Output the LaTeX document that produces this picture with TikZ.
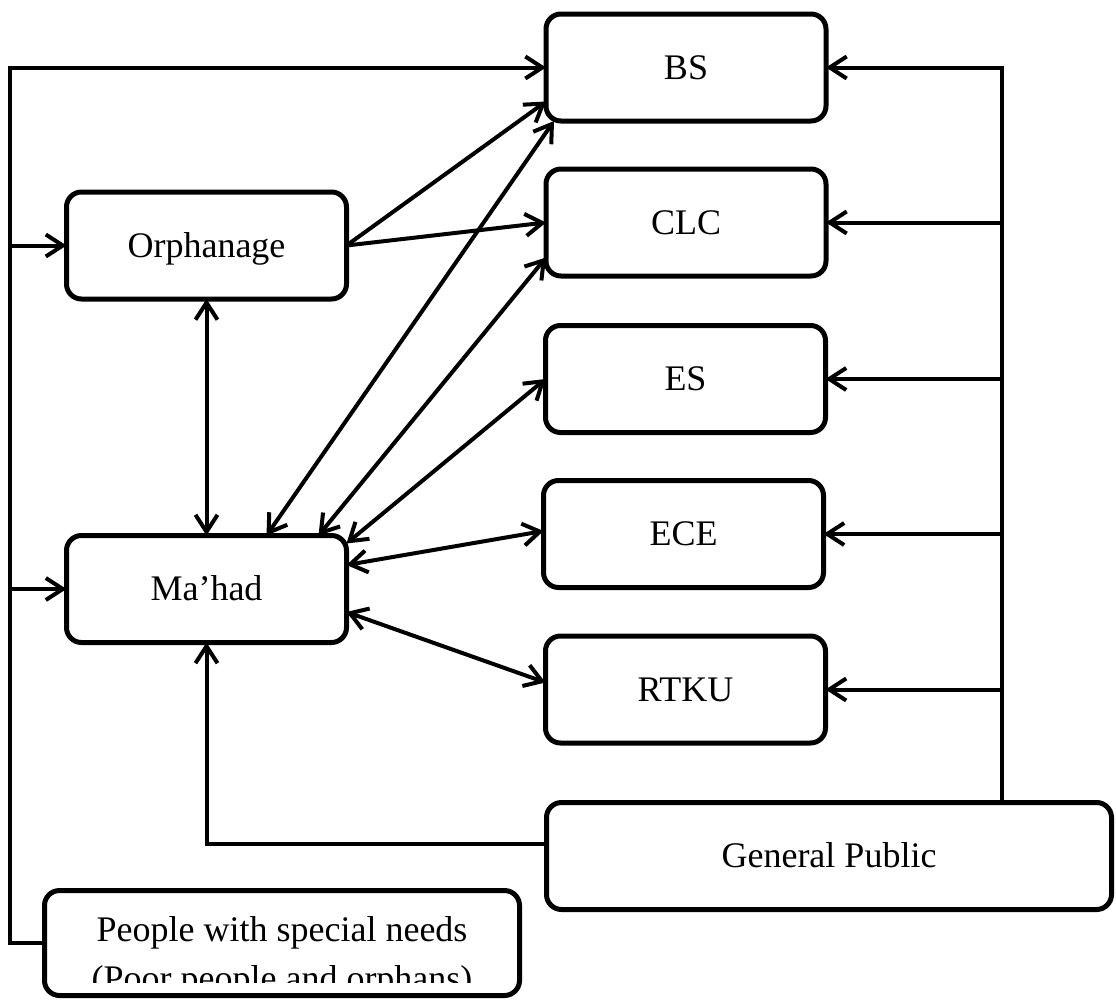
\documentclass[tikz,border=0pt]{standalone}
\usepackage{fontspec}
\setmainfont{Liberation Serif}
\usetikzlibrary{arrows.meta}
\begin{document}
\begin{tikzpicture}[x=1pt,y=-1pt,
  box/.style={draw, fill=white, line width=5pt, rounded corners=15pt, inner sep=0pt, outer sep=0pt,
    minimum width=280pt, minimum height=107pt, font=\fontsize{36}{44}\selectfont,
    text height=23.5pt, text depth=0pt},
  conn/.style={line width=4pt},
  tip/.tip={Straight Barb[length=17pt,width=22pt]},
  arr/.style={conn, -tip},
  arrr/.style={conn, tip-tip},
]
\useasboundingbox (0,0) rectangle (1116,1001);
\node[box] (bs) at (686,67.5) {BS};
\node[box] (clc) at (686,222.5) {CLC};
\node[box] (es) at (685.5,379) {ES};
\node[box] (ece) at (683.5,534) {ECE};
\node[box] (rtku) at (685.5,689.5) {RTKU};
\node[box] (orph) at (206.5,245.5) {Orphanage};
\node[box] (mahad) at (206.5,589) {Ma'had};
\node[box, minimum width=565pt] (gp) at (829,856) {General Public};
\node[box, minimum width=475pt, minimum height=105pt] (ppl) at (282,943) {};
\begin{scope}
  \clip (40,880) rectangle (524,982);
  \node[font=\fontsize{36}{49}\selectfont, align=center, anchor=north, inner sep=0pt] (ppltext) at (282,916)
    {People with special needs\\(Poor people and orphans)};
\end{scope}
\coordinate (lrail) at (10,0);
\coordinate (rrail) at (1002,0);
% left rail
\draw[arr] (ppl.west) -- (ppl.west -| lrail) |- (bs.west);
\draw[arr] (orph.west -| lrail) -- (orph.west);
\draw[arr] (mahad.west -| lrail) -- (mahad.west);
% right rail
\draw[arr] (gp.north -| rrail) |- (bs.east);
\draw[arr] (clc.east -| rrail) -- (clc.east);
\draw[arr] (es.east -| rrail) -- (es.east);
\draw[arr] (ece.east -| rrail) -- (ece.east);
\draw[arr] (rtku.east -| rrail) -- (rtku.east);
% general public to Ma'had
\draw[arr] ([yshift=12pt]gp.west) -| (mahad.south);
% orphanage
\draw[arrr] (orph.south) -- (mahad.north);
\draw[arr] (orph.east) -- ([yshift=-34pt]bs.west);
\draw[arr] (orph.east) -- (clc.west);
% Ma'had
\draw[arrr] ([xshift=60pt]mahad.north) -- ([xshift=8pt]bs.south west);
\draw[arrr] ([xshift=112pt]mahad.north) -- ([yshift=-35pt]clc.west);
\draw[arrr] ([yshift=-8pt]mahad.north east) -- (es.west);
\draw[arrr] ([yshift=24pt]mahad.east) -- ([yshift=3pt]ece.west);
\draw[arrr] ([yshift=-23pt]mahad.east) -- ([yshift=7pt]rtku.west);
\end{tikzpicture}
\end{document}
